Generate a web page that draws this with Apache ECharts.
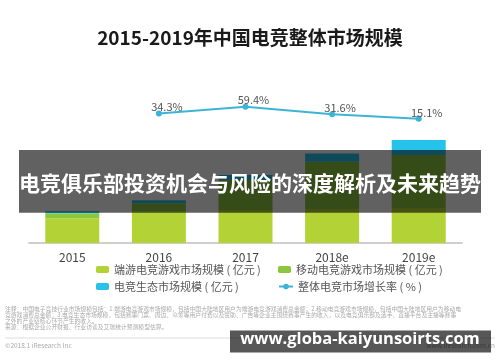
<!DOCTYPE html>
<html>
<head>
<meta charset="utf-8">
<script src="https://cdn.jsdelivr.net/npm/echarts@6/dist/echarts.min.js"></script>
<style>
html,body{margin:0;padding:0;background:#fff;}
#chart{width:500px;height:362px;}
</style>
</head>
<body>
<div id="chart"></div>
<script>
const categories = ['2015', '2016', '2017', '2018e', '2019e'];
const pcGame = [237, 301, 315, 325, 334];
const mobileGame = [48, 78, 287, 450, 507];
const ecosystem = [19, 29, 48, 80, 143];
const growth = [null, 34.3, 59.4, 31.6, 15.1];
const seriesNames = ['端游电竞游戏市场规模 ( 亿元 )', '移动电竞游戏市场规模 ( 亿元 )', '电竞生态市场规模 ( 亿元 )', '整体电竞市场增长率 ( % )'];
const titleText = '2015-2019年中国电竞整体市场规模';
const noteLines = [
  '注释：中国电子竞技行业市场规模包括：1.端游电竞游戏市场规模，包括中国大陆地区用户为端游电竞游戏消费总金额；2.移动电竞游戏市场规模，包括中国大陆地区用户为移动电',
  '竞游戏消费总金额；3.电竞生态市场规模，包括赛事门票、周边、众筹等用户付费以及赞助、广告等企业主围绕赛事产生的收入，以及电竞俱乐部及选手、直播平台及主播等赛事',
  '之外的产业链核心环节产生的收入。',
  '来源：根据企业公开财报、行业访谈及艾瑞统计预测模型估算。'
];
const bannerText = '电竞俱乐部投资机会与风险的深度解析及未来趋势';
const watermarkText = 'www.globa-kaiyunsoirts.com';

const FONT = '"Noto Sans CJK SC", "Noto Sans", sans-serif';
const chart = echarts.init(document.getElementById('chart'), null, {renderer: 'canvas'});

function legendAt(name, left, top) {
  return {
    data: [name], left: left, top: top, padding: 0,
    itemWidth: 13, itemHeight: 7, itemGap: 0,
    textStyle: {fontSize: 11, color: '#555', fontFamily: FONT, padding: [0, 0, 0, 0]}
  };
}

const option = {
  backgroundColor: '#fff',
  animation: false,
  title: {
    text: titleText, left: 'center', top: 27, padding: 0,
    textStyle: {fontSize: 19, fontWeight: 'bold', color: '#1a1a1a', fontFamily: FONT, lineHeight: 22}
  },
  legend: [
    legendAt(seriesNames[0], 96, 264),
    legendAt(seriesNames[1], 278, 264),
    legendAt(seriesNames[2], 96, 281),
    Object.assign(legendAt(seriesNames[3], 278, 281), {itemWidth: 14})
  ],
  grid: [
    {left: 29, right: 38, top: 54.5, height: 188.5},
    {left: 29, right: 38, top: 90, height: 33}
  ],
  xAxis: [
    {
      type: 'category', data: categories, gridIndex: 0,
      axisLine: {lineStyle: {color: '#cfcfcf', width: 2}},
      axisTick: {show: false},
      axisLabel: {fontSize: 12, color: '#444', margin: 8, fontFamily: FONT}
    },
    {type: 'category', data: categories, gridIndex: 1, show: false}
  ],
  yAxis: [
    {type: 'value', gridIndex: 0, min: 0, max: 1800, show: false, splitLine: {show: false}},
    {type: 'value', gridIndex: 1, min: 0, max: 120, show: false, splitLine: {show: false}}
  ],
  series: [
    {name: seriesNames[0], type: 'bar', stack: 'total', data: pcGame, barWidth: 54,
     itemStyle: {color: '#b3d236'}},
    {name: seriesNames[1], type: 'bar', stack: 'total', data: mobileGame, barWidth: 54,
     itemStyle: {color: '#8cc63f'}},
    {name: seriesNames[2], type: 'bar', stack: 'total', data: ecosystem, barWidth: 54,
     itemStyle: {color: '#25c3ea'}},
    {name: seriesNames[3], type: 'line', xAxisIndex: 1, yAxisIndex: 1, data: growth,
     symbol: 'circle', symbolSize: 6, connectNulls: false,
     lineStyle: {color: '#3db4d6', width: 2}, itemStyle: {color: '#3db4d6'},
     label: {show: true, position: 'top', distance: 2, offset: [8, 4],
             formatter: p => p.value + '%', fontSize: 11, color: '#555', fontFamily: FONT}}
  ],
  graphic: [
    {type: 'rect', z: 100, shape: {x: 19, y: 150, width: 462, height: 62.7},
     style: {fill: 'rgba(0,0,0,0.62)'}},
    {type: 'text', z: 101, x: 250, y: 183,
     style: {text: bannerText, fill: '#fff', fontSize: 21, fontWeight: 'bold', fontFamily: FONT,
             align: 'center', verticalAlign: 'middle'}},
    {type: 'text', z: 10, x: 5, y: 309,
     style: {text: noteLines[0], fill: '#aaa', fontSize: 5.8, fontFamily: FONT, verticalAlign: 'middle'}},
    {type: 'text', z: 10, x: 5, y: 315,
     style: {text: noteLines[1], fill: '#aaa', fontSize: 5.8, fontFamily: FONT, verticalAlign: 'middle'}},
    {type: 'text', z: 10, x: 5, y: 321,
     style: {text: noteLines[2], fill: '#aaa', fontSize: 5.8, fontFamily: FONT, verticalAlign: 'middle'}},
    {type: 'text', z: 10, x: 5, y: 327,
     style: {text: noteLines[3], fill: '#aaa', fontSize: 5.8, fontFamily: FONT, verticalAlign: 'middle'}},
    {type: 'line', z: 10, shape: {x1: 5, y1: 338, x2: 495, y2: 338},
     style: {stroke: '#ddd', lineWidth: 1}},
    {type: 'text', z: 10, x: 5, y: 346,
     style: {text: '©2018.1 iResearch Inc', fill: '#aaa', fontSize: 6.5, fontFamily: FONT, verticalAlign: 'middle'}},
    {type: 'text', z: 10, x: 495, y: 346,
     style: {text: 'www.iresearch.com.cn', fill: '#aaa', fontSize: 6.5, fontFamily: FONT,
             align: 'right', verticalAlign: 'middle'}},
    {type: 'rect', z: 100, shape: {x: 230, y: 330.5, width: 261, height: 22},
     style: {fill: 'rgba(0,0,0,0.66)'}},
    {type: 'text', z: 101, x: 360, y: 339,
     style: {text: watermarkText, fill: '#fff', fontSize: 16.5, fontWeight: 'bold',
             fontFamily: '"Open Sans", "DejaVu Sans", sans-serif', align: 'center', verticalAlign: 'middle'}}
  ]
};
chart.setOption(option);
</script>
</body>
</html>
